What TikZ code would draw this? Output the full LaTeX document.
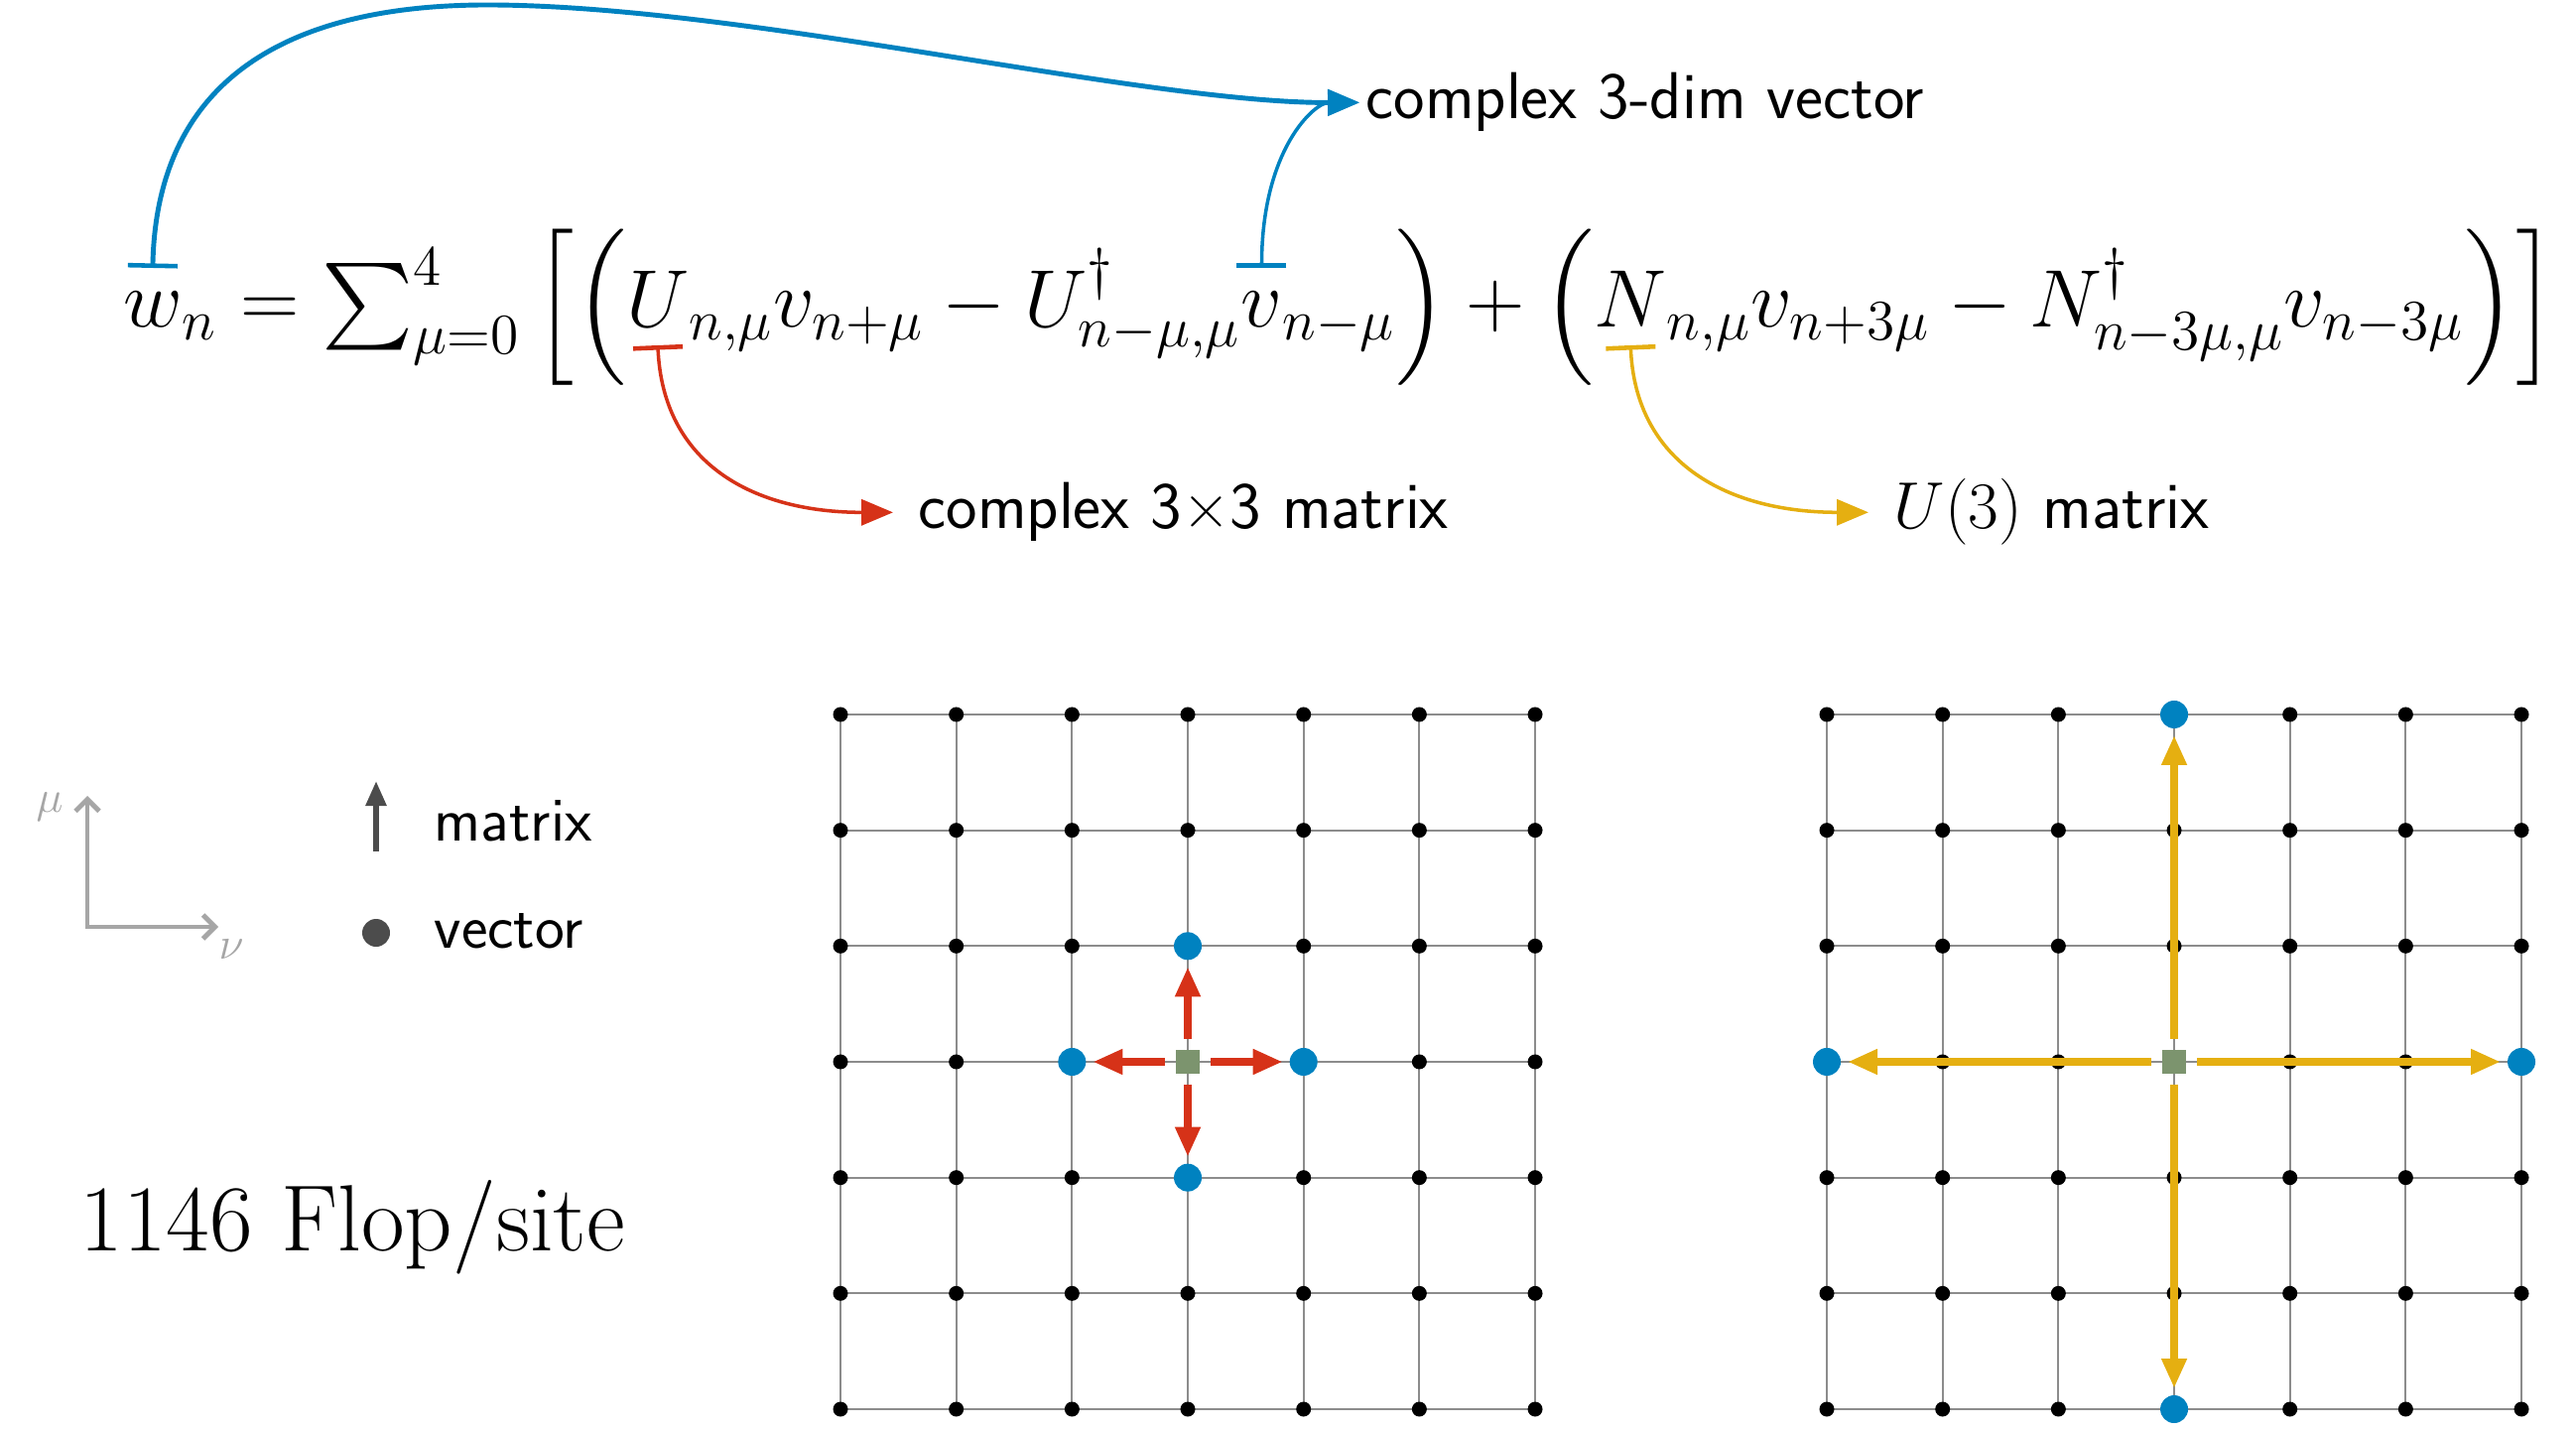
\RequirePackage{fix-cm}
\documentclass[tikz,border=0pt]{standalone}
\usepackage{amsmath}
\usepackage{exscale}
\usetikzlibrary{arrows.meta, positioning, calc}

\definecolor{vecblue}{RGB}{0,130,192}
\definecolor{matred}{RGB}{214,50,24}
\definecolor{unigold}{RGB}{229,175,17}
\definecolor{sitegreen}{RGB}{124,148,110}

\begin{document}
\begin{tikzpicture}[node distance=0pt, >=Triangle]

% styles
\tikzstyle{eq} = [inner sep=0pt, outer sep=0pt, font=\fontsize{23.4}{28}\selectfont]
\tikzstyle{note} = [inner ysep=0pt, inner xsep=0.25cm, font=\fontsize{19}{23}\selectfont\sffamily]
\tikzstyle{keytext} = [inner sep=0pt, font=\fontsize{18}{22}\selectfont\sffamily]
\tikzstyle{tagline} = [line width=1pt, {Bar[width=0.5cm,line width=1.3pt]}-{Triangle[length=0.32cm,width=0.26cm]}]
\tikzstyle{gridline} = [black!45, line width=0.6pt]
\tikzstyle{site} = [circle, fill=black, inner sep=0pt, minimum size=0.15cm]
\tikzstyle{vsite} = [circle, fill=vecblue, inner sep=0pt, outer sep=0pt, minimum size=0.28cm]
\tikzstyle{home} = [rectangle, fill=sitegreen, inner sep=0pt, outer sep=0pt, minimum size=0.24cm]
\tikzstyle{hop} = [line width=2.1pt, -{Triangle[length=0.30cm,width=0.24cm]}, shorten <=0.11cm, shorten >=0.07cm]
\tikzstyle{axes} = [black!35, line width=1.4pt, {Straight Barb[length=0.12cm,width=0.24cm]}-{Straight Barb[length=0.12cm,width=0.24cm]}]

\useasboundingbox (0,0) rectangle (25.96,14.40);

% equation
\node[eq, anchor=base west] (w) at (1.24,11.10) {$w$};
\node[eq, base right=of w] (eqa) {${}_n = \sum_{\mu=0}^{4} \Big[\Big($};
\node[eq, base right=of eqa] (U) {$U$};
\node[eq, base right=of U] (eqb) {${}_{n,\mu} v_{n+\mu} - U^{\dagger}_{n-\mu,\mu}$};
\node[eq, base right=of eqb] (v) {$v$};
\node[eq, base right=of v] (eqc) {${}_{n-\mu}\Big) + \Big($};
\node[eq, base right=of eqc] (N) {$N$};
\node[eq, base right=of N] (eqd) {${}_{n,\mu} v_{n+3\mu} - N^{\dagger}_{n-3\mu,\mu} v_{n-3\mu}\Big)\Big]$};

\coordinate (wtag) at ($(w.base)+(0,0.60)$);
\coordinate (vtag) at ($(v.base)+(0,0.60)$);
\coordinate (Utag) at ($(U.base)+(0,-0.18)$);
\coordinate (Ntag) at ($(N.base)+(0,-0.18)$);

% labels
\node[note, anchor=base west, inner xsep=0.06cm] (vec3) at (13.70,13.20) {complex 3-dim vector};
\node[note, anchor=base west] (mat33) at (9.00,9.07) {complex 3\texttimes 3 matrix};
\node[note, anchor=base west] (u3) at (18.83,9.07) {$U(3)$ matrix};

\draw[tagline, vecblue, line width=1.4pt] (wtag) .. controls +(0.04,1.9) and (2.9,14.35) .. (4.91,14.35)
    .. controls (7.5,14.35) and (11.5,13.36) .. (vec3.west);
\draw[tagline, vecblue] (vtag) .. controls +(0,1.2) and +(-0.45,0) .. (vec3.west);
\draw[tagline, matred] (Utag) .. controls +(0.05,-1.2) and +(-1.4,0) .. (mat33.west);
\draw[tagline, unigold] (Ntag) .. controls +(0.05,-1.2) and +(-1.4,0) .. (u3.west);

% legend
\coordinate (axmu) at (0.88,6.38);
\coordinate (axnu) at (2.20,5.06);
\draw[axes] (axmu) |- (axnu);
\node[text=black!35, font=\fontsize{13}{15}\selectfont] (mulab) at (0.50,6.27) {$\mu$};
\node[text=black!35, font=\fontsize{13}{15}\selectfont] (nulab) at (2.33,4.83) {$\nu$};

\coordinate (mfoot) at (3.79,5.82);
\coordinate (mhead) at (3.79,6.53);
\draw[black!70, line width=1.6pt, -{Triangle[length=0.25cm,width=0.2cm]}] (mfoot) -- (mhead);
\node[circle, fill=black!70, inner sep=0pt, minimum size=0.28cm] (vdot) at (3.79,5.00) {};
\node[keytext, anchor=base west] (mlab) at (4.37,5.93) {matrix};
\node[keytext, anchor=base west] (vlab) at (4.37,4.85) {vector};

\node[anchor=base west, inner sep=0pt, font=\fontsize{27}{32}\selectfont] (flops) at (0.80,1.80) {1146 Flop/site};

% lattice with nearest neighbours
\begin{scope}[shift={(8.47,0.20)}, x=1.1667cm, y=1.1667cm]
  \foreach \k in {0,...,6} {
    \draw[gridline] (\k,0) -- (\k,6);
    \draw[gridline] (0,\k) -- (6,\k);
  }
  \foreach \i in {0,...,6}
    \foreach \j in {0,...,6}
      \node[site] (a-\i-\j) at (\i,\j) {};
  \node[home] (a-c) at (3,3) {};
  \node[vsite] (a-n) at (3,4) {};
  \node[vsite] (a-s) at (3,2) {};
  \node[vsite] (a-e) at (4,3) {};
  \node[vsite] (a-w) at (2,3) {};
  \foreach \t in {n,s,e,w}
    \draw[hop, matred] (a-c) -- (a-\t);
\end{scope}

% lattice with third neighbours
\begin{scope}[shift={(18.41,0.20)}, x=1.1667cm, y=1.1667cm]
  \foreach \k in {0,...,6} {
    \draw[gridline] (\k,0) -- (\k,6);
    \draw[gridline] (0,\k) -- (6,\k);
  }
  \foreach \i in {0,...,6}
    \foreach \j in {0,...,6}
      \node[site] (b-\i-\j) at (\i,\j) {};
  \node[home] (b-c) at (3,3) {};
  \node[vsite] (b-n) at (3,6) {};
  \node[vsite] (b-s) at (3,0) {};
  \node[vsite] (b-e) at (6,3) {};
  \node[vsite] (b-w) at (0,3) {};
  \foreach \t in {n,s,e,w}
    \draw[hop, unigold] (b-c) -- (b-\t);
\end{scope}

\end{tikzpicture}
\end{document}
